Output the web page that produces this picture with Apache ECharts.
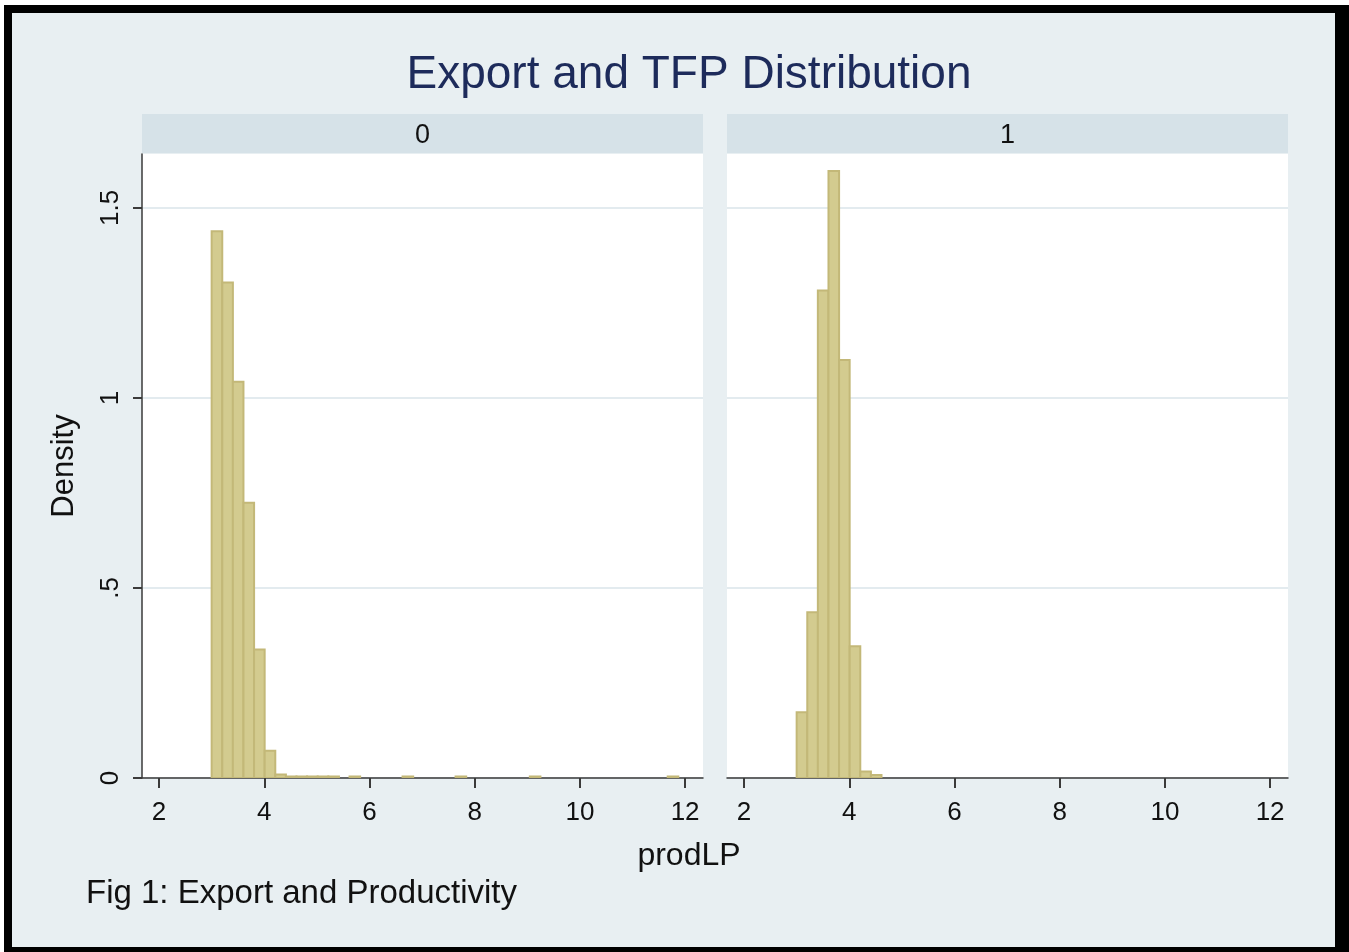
<!DOCTYPE html>
<html>
<head>
<meta charset="utf-8">
<title>Export and TFP Distribution</title>
<script src="https://cdn.jsdelivr.net/npm/echarts@6/dist/echarts.min.js"></script>
<style>
  html, body { margin: 0; padding: 0; background: #ffffff; width: 1349px; height: 952px; overflow: hidden; }
  #frame {
    position: absolute; left: 4px; top: 5px; width: 1345px; height: 947px;
    box-sizing: border-box; border-style: solid; border-color: #000;
    border-width: 8px 14px 5px 8px; background: #e8eff2;
  }
  #chart { position: absolute; left: 0; top: 0; width: 1349px; height: 952px; }
</style>
</head>
<body>
<div id="frame"></div>
<div id="chart"></div>
<script>
// Histogram of labour productivity (prodLP) by export status, density scale
const panelLabels = ['0', '1'];
const binWidth = 0.2016;

// Non-exporters (panel "0")
const binStarts0 = [3.000, 3.202, 3.403, 3.605, 3.806, 4.008, 4.210, 4.411, 4.613, 4.814, 5.016, 5.218, 5.621, 6.629, 7.637, 9.048, 11.669];
const density0   = [1.439, 1.304, 1.043, 0.724, 0.338, 0.072, 0.009, 0.004, 0.004, 0.004, 0.004, 0.004, 0.004, 0.004, 0.004, 0.004, 0.004];

// Exporters (panel "1")
const binStarts1 = [3.000, 3.202, 3.403, 3.605, 3.806, 4.008, 4.210, 4.411];
const density1   = [0.173, 0.436, 1.283, 1.597, 1.100, 0.347, 0.017, 0.008];

const xTicks = [2, 4, 6, 8, 10, 12];
const yTicks = [0, 0.5, 1, 1.5];
const yTickLabels = ['0', '.5', '1', '1.5'];

const X_MIN = 1.676, X_MAX = 12.34;
const Y_MAX = 1.642;

const FONT = '"Liberation Sans", Arial, sans-serif';
const BAR_FILL = '#d3cb8f';
const BAR_EDGE = '#c3b878';
const GRID_LINE = '#e3ebef';
const AXIS_DARK = '#3a3a3a';

// plot regions
const grids = [
  { left: 142, right: 646, top: 154, bottom: 174 },
  { left: 727, right: 61,  top: 154, bottom: 174 }
];

function toBins(starts, dens) {
  return starts.map((s, i) => [s, s + binWidth, dens[i]]);
}

function renderBin(params, api) {
  const p0 = api.coord([api.value(0), api.value(2)]);
  const p1 = api.coord([api.value(1), 0]);
  return {
    type: 'rect',
    shape: { x: p0[0], y: p0[1], width: p1[0] - p0[0], height: p1[1] - p0[1] },
    style: { fill: BAR_FILL, stroke: BAR_EDGE, lineWidth: 2 }
  };
}

function yLabel(v) {
  let best = 0;
  yTicks.forEach((t, i) => { if (Math.abs(t - v) < Math.abs(yTicks[best] - v)) best = i; });
  return yTickLabels[best];
}

const xAxes = grids.map((g, i) => ({
  type: 'value', gridIndex: i, min: X_MIN, max: X_MAX,
  axisLine: { show: true, onZero: false, lineStyle: { color: AXIS_DARK, width: 1.5 } },
  axisTick: { show: true, length: 10, customValues: xTicks, lineStyle: { color: AXIS_DARK, width: 2 } },
  axisLabel: { show: true, customValues: xTicks, margin: 22, fontSize: 26, fontFamily: FONT, color: '#111' },
  splitLine: { show: false }
}));

const yAxes = grids.map((g, i) => ({
  type: 'value', gridIndex: i, min: 0, max: Y_MAX,
  axisLine: { show: i === 0, onZero: false, lineStyle: { color: AXIS_DARK, width: 1.5 } },
  axisTick: { show: i === 0, length: 9, customValues: yTicks, lineStyle: { color: AXIS_DARK, width: 2 } },
  axisLabel: {
    show: i === 0, customValues: yTicks, rotate: 90, margin: 18,
    fontSize: 26, fontFamily: FONT, color: '#111', formatter: yLabel
  },
  splitLine: { show: true, lineStyle: { color: GRID_LINE, width: 2 } },
  name: i === 0 ? 'Density' : '',
  nameLocation: 'middle', nameGap: 62,
  nameTextStyle: { fontSize: 31, fontFamily: FONT, color: '#111' }
}));

// facet strips with their labels
const stripEls = [];
grids.forEach((g, i) => {
  const x0 = g.left, x1 = 1349 - g.right;
  stripEls.push({
    type: 'rect', shape: { x: x0, y: 114, width: x1 - x0, height: 39 },
    style: { fill: '#d6e2e8' }, silent: true, z: 0
  });
  stripEls.push({
    type: 'text', x: (x0 + x1) / 2, y: 136,
    style: {
      text: panelLabels[i], font: '27px ' + FONT, fill: '#111',
      align: 'center', verticalAlign: 'middle', textAlign: 'center', textVerticalAlign: 'middle'
    },
    silent: true, z: 1
  });
});

const option = {
  backgroundColor: 'transparent',
  animation: false,
  title: {
    text: 'Export and TFP Distribution',
    left: 689, top: 52, padding: 0, textAlign: 'center',
    textStyle: { fontSize: 46, fontWeight: 'normal', fontFamily: FONT, color: '#1d2b5b' }
  },
  grid: grids.map(g => Object.assign({ backgroundColor: '#ffffff', show: true, borderWidth: 0 }, g)),
  xAxis: xAxes,
  yAxis: yAxes,
  series: [
    { type: 'custom', name: '0', xAxisIndex: 0, yAxisIndex: 0, renderItem: renderBin, data: toBins(binStarts0, density0), clip: true },
    { type: 'custom', name: '1', xAxisIndex: 1, yAxisIndex: 1, renderItem: renderBin, data: toBins(binStarts1, density1), clip: true }
  ],
  graphic: stripEls.concat([
    {
      type: 'text', x: 689, y: 856,
      style: {
        text: 'prodLP', font: '32px ' + FONT, fill: '#111',
        align: 'center', verticalAlign: 'middle', textAlign: 'center', textVerticalAlign: 'middle'
      }
    },
    {
      type: 'text', x: 86, y: 894,
      style: {
        text: 'Fig 1: Export and Productivity', font: '33px ' + FONT, fill: '#111',
        align: 'left', verticalAlign: 'middle', textAlign: 'left', textVerticalAlign: 'middle'
      }
    }
  ])
};

const chart = echarts.init(document.getElementById('chart'));
chart.setOption(option);
</script>
</body>
</html>
